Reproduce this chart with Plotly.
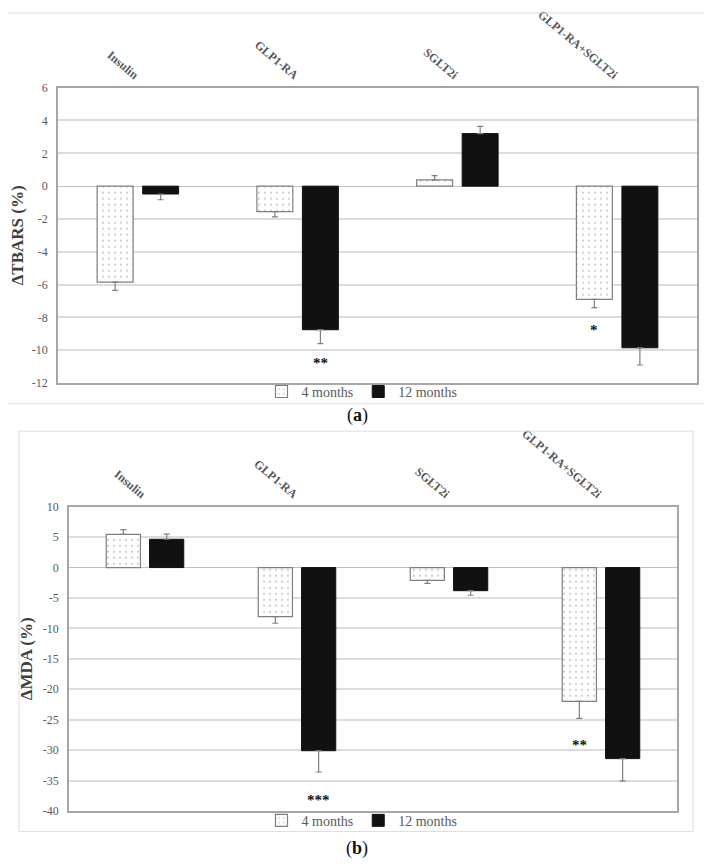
import plotly.graph_objects as go

# ---------------- data ----------------
categories = ["Insulin", "GLP1-RA", "SGLT2i", "GLP1-RA+SGLT2i"]
series_names = ["4 months", "12 months"]

tbars_4m = [-5.85, -1.55, 0.38, -6.9]
tbars_12m = [-0.48, -8.75, 3.2, -9.85]
tbars_4m_err = [0.5, 0.32, 0.26, 0.5]
tbars_12m_err = [0.35, 0.85, 0.44, 1.05]

mda_4m = [5.45, -8.05, -2.1, -22.0]
mda_12m = [4.65, -30.1, -3.8, -31.4]
mda_4m_err = [0.8, 1.1, 0.5, 2.8]
mda_12m_err = [0.85, 3.5, 0.75, 3.7]

tbars_tickvals = [6, 4, 2, 0, -2, -4, -6, -8, -10, -12]
tbars_ticktext = ["6", "4", "2", "0", "-2", "-4", "-6", "-8", "-10", "-12"]
mda_tickvals = [10, 5, 0, -5, -10, -15, -20, -25, -30, -35, -40]
mda_ticktext = ["10", "5", "0", "-5", "-10", "-15", "-20", "-25", "-30", "-35", "-40"]

# significance marks: (category, series, y position, text)
tbars_stars = [("GLP1-RA", "12 months", -10.6, "**"),
               ("GLP1-RA+SGLT2i", "4 months", -8.6, "*")]
mda_stars = [("GLP1-RA", "12 months", -37.7, "***"),
             ("GLP1-RA+SGLT2i", "4 months", -28.7, "**")]

# ---------------- styling ----------------
WIN_W, WIN_H = 712, 868
OFF = 8  # default page body margin
W, H = WIN_W - OFF, WIN_H - OFF
SERIF = "Liberation Serif, Times New Roman, serif"
GRAY_TXT = "#595959"
BARGAP = 0.43
GROUPGAP = 0.21


def px(x):
    return (x - OFF) / W


def py(y):
    return 1 - (y - OFF) / H


top_xdom = [px(58), px(697)]
top_ydom = [py(381), py(80)]
bot_xdom = [px(69), px(677)]
bot_ydom = [py(817), py(507)]


def split_err(vals, errs):
    up = [e if v > 0 else 0 for v, e in zip(vals, errs)]
    down = [e if v < 0 else 0 for v, e in zip(vals, errs)]
    return up, down


def bar_pair(vals4, err4, vals12, err12, xa, ya, legend):
    traces = []
    for name, vals, errs, dotted in [(series_names[0], vals4, err4, True),
                                     (series_names[1], vals12, err12, False)]:
        up, down = split_err(vals, errs)
        if dotted:
            marker = dict(color="white",
                          line=dict(color="#7f7f7f", width=1.2),
                          pattern=dict(shape=".", fgcolor="#8c8c8c", bgcolor="white",
                                       size=6, solidity=0.1))
        else:
            marker = dict(color="#111111", line=dict(color="#111111", width=1))
        traces.append(go.Bar(
            x=categories, y=vals, name=name, marker=marker,
            xaxis=xa, yaxis=ya, legend=legend, showlegend=True,
            error_y=dict(type="data", symmetric=False, array=up, arrayminus=down,
                         color="#7f7f7f", thickness=1.2, width=3),
        ))
    return traces


fig = go.Figure()
for t in bar_pair(tbars_4m, tbars_4m_err, tbars_12m, tbars_12m_err, "x", "y", "legend"):
    fig.add_trace(t)
for t in bar_pair(mda_4m, mda_4m_err, mda_12m, mda_12m_err, "x2", "y2", "legend2"):
    fig.add_trace(t)


def xaxis_cfg(dom, anchor):
    return dict(domain=dom, anchor=anchor, side="top", type="category",
                tickangle=40, ticks="", showgrid=False,
                tickfont=dict(family=SERIF, size=12, color=GRAY_TXT, weight="bold"),
                showline=True, mirror=True, linecolor="#a6a6a6", linewidth=1.5,
                zeroline=False)


def yaxis_cfg(dom, anchor, rng, tv, tt, title, standoff):
    return dict(domain=dom, anchor=anchor, range=rng, tickvals=tv, ticktext=tt,
                showgrid=True, gridcolor="#dcdcdc", gridwidth=1.5,
                zeroline=True, zerolinecolor="#bfbfbf", zerolinewidth=1.2,
                showline=True, mirror=True, linecolor="#a6a6a6", linewidth=1.5,
                ticks="", ticklabelstandoff=6,
                tickfont=dict(family=SERIF, size=12, color=GRAY_TXT),
                title=dict(text=title, standoff=standoff,
                           font=dict(family=SERIF, size=17, color="#404040", weight="bold")))


annotations = []


def add_stars(stars, xref, yref, xdom):
    cat_px = (xdom[1] - xdom[0]) * W / len(categories)
    slot = cat_px * (1 - BARGAP) / 2
    for cat, ser, yv, txt in stars:
        shift = -slot / 2 if ser == series_names[0] else slot / 2
        annotations.append(dict(x=cat, y=yv, xref=xref, yref=yref, text=txt,
                                showarrow=False, xshift=shift, yshift=-3,
                                xanchor="center", yanchor="middle",
                                font=dict(family=SERIF, size=15, color="#111111",
                                          weight="bold")))


add_stars(tbars_stars, "x", "y", top_xdom)
add_stars(mda_stars, "x2", "y2", bot_xdom)

annotations.append(dict(x=px(357), y=py(414), xref="paper", yref="paper",
                        text="(<b>a</b>)", showarrow=False,
                        xanchor="center", yanchor="middle",
                        font=dict(family=SERIF, size=18, color="#111111")))
annotations.append(dict(x=px(357), y=py(855), xref="paper", yref="paper",
                        text="(<b>b</b>)", showarrow=False,
                        xanchor="center", yanchor="middle",
                        font=dict(family=SERIF, size=18, color="#111111")))

shapes = [
    dict(type="rect", xref="paper", yref="paper", x0=px(5), x1=px(707),
         y0=py(402), y1=py(4), line=dict(color="#dedede", width=1)),
    dict(type="rect", xref="paper", yref="paper", x0=px(19), x1=px(693),
         y0=py(838), y1=py(430), line=dict(color="#dedede", width=1)),
]

legend_font = dict(family=SERIF, size=14, color=GRAY_TXT)

fig.update_layout(
    width=W, height=H, margin=dict(l=0, r=0, t=0, b=0),
    paper_bgcolor="white", plot_bgcolor="white",
    barmode="group", bargap=BARGAP, bargroupgap=GROUPGAP,
    xaxis=xaxis_cfg(top_xdom, "y"),
    yaxis=yaxis_cfg(top_ydom, "x", [-12, 6], tbars_tickvals, tbars_ticktext,
                    "ΔTBARS (%)", 12),
    xaxis2=xaxis_cfg(bot_xdom, "y2"),
    yaxis2=yaxis_cfg(bot_ydom, "x2", [-40, 10], mda_tickvals, mda_ticktext,
                     "ΔMDA (%)", 6),
    legend=dict(orientation="h", x=px(362), y=py(390), xanchor="center",
                yanchor="middle", font=legend_font, itemwidth=30,
                bgcolor="rgba(0,0,0,0)", tracegroupgap=0),
    legend2=dict(orientation="h", x=px(362), y=py(827), xanchor="center",
                 yanchor="middle", font=legend_font, itemwidth=30,
                 bgcolor="rgba(0,0,0,0)", tracegroupgap=0),
    annotations=annotations, shapes=shapes,
)

fig.write_html("out.html")
